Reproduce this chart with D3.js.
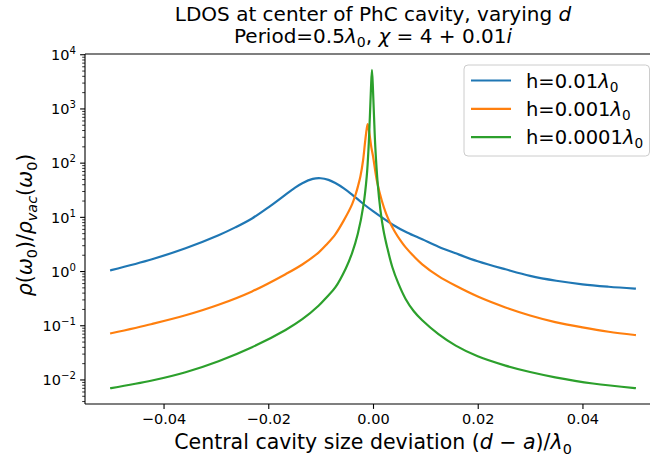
<!DOCTYPE html>
<html>
<head>
<meta charset="utf-8">
<script src="https://cdn.jsdelivr.net/npm/d3@7"></script>
<style>
  html, body { margin: 0; padding: 0; background: #fff; }
  svg { display: block; font-family: "DejaVu Sans", sans-serif; }
</style>
</head>
<body>
<svg id="chart" width="650" height="456"></svg>
<script>
// Deviation (d - a)/λ0 sample positions and LDOS ratio for each slab thickness
const devH1 = [-0.05, -0.0422, -0.0358, -0.0295, -0.0263, -0.0231, -0.0199, -0.0167, -0.015, -0.0135,
               -0.0115, -0.0100, -0.0085, -0.0072, -0.0055, -0.0040, -0.0020, 0.0, 0.0037, 0.0065,
               0.0094, 0.0125, 0.0158, 0.020, 0.0253, 0.030, 0.035, 0.040, 0.045, 0.05];
const ldosH1 = [1.06, 1.69, 2.69, 4.68, 6.53, 9.55, 15.5, 26.3, 34.7, 42.7,
                51.2, 52.7, 49.1, 42.9, 33.9, 26.3, 18.2, 13.0, 7.40, 5.25,
                3.94, 2.88, 2.17, 1.55, 1.10, 0.832, 0.676, 0.582, 0.525, 0.484];

const devH2 = [-0.05, -0.0422, -0.0358, -0.0295, -0.0231, -0.0167, -0.0135, -0.0104, -0.0088, -0.0072,
               -0.0056, -0.0040, -0.0032, -0.0028, -0.0024, -0.0019, -0.0015, -0.0012, -0.0010, -0.0007,
               -0.0003, 0.0, 0.00076, 0.0017, 0.0025, 0.0033, 0.0042, 0.0052, 0.0062, 0.0078,
               0.0094, 0.0125, 0.0158, 0.020, 0.0253, 0.030, 0.0348, 0.040, 0.045, 0.05];
const ldosH2 = [0.0726, 0.108, 0.156, 0.244, 0.430, 0.895, 1.35, 2.24, 3.20, 4.86,
                8.71, 17.4, 28.8, 39.8, 57.5, 112, 251, 427, 525, 363,
                191, 135, 46.5, 20.0, 11.7, 7.76, 5.37, 3.80, 2.82, 1.91,
                1.36, 0.822, 0.545, 0.346, 0.218, 0.155, 0.117, 0.0933, 0.0776, 0.0676];

const devH3 = [-0.05, -0.0422, -0.0358, -0.0295, -0.0231, -0.0167, -0.0135, -0.0104, -0.0088, -0.0072,
               -0.0052, -0.0040, -0.0029, -0.0018, -0.0012, -0.00084, -0.0006, -0.0004, -0.0002, 0.0,
               0.0002, 0.00044, 0.0009, 0.0014, 0.0020, 0.0027, 0.0037, 0.0048, 0.0062, 0.0078,
               0.0094, 0.0125, 0.0158, 0.020, 0.0253, 0.030, 0.0348, 0.042, 0.05];
const ldosH3 = [0.00708, 0.00977, 0.0139, 0.0222, 0.0402, 0.0836, 0.132, 0.234, 0.340, 0.509,
                1.14, 2.19, 4.98, 17.4, 56.2, 200, 708, 2240, 5250, 2240,
                708, 200, 41.7, 14.1, 5.79, 2.82, 1.20, 0.617, 0.316, 0.185,
                0.126, 0.0700, 0.0430, 0.0273, 0.0184, 0.0140, 0.0112, 0.00861, 0.00708];

const seriesLabels = ["0.01", "0.001", "0.0001"];
const seriesColors = ["#1f77b4", "#ff7f0e", "#2ca02c"];

const xTicks = [-0.04, -0.02, 0.0, 0.02, 0.04];
const yTickExps = [-2, -1, 0, 1, 2, 3, 4];

const series = [
  { dev: devH1, ldos: ldosH1 },
  { dev: devH2, ldos: ldosH2 },
  { dev: devH3, ldos: ldosH3 }
].map((s, i) => ({
  label: seriesLabels[i],
  color: seriesColors[i],
  points: s.dev.map((d, j) => ({ x: d, y: s.ldos[j] }))
}));

const svg = d3.select("#chart");
const plot = { left: 85, right: 661, top: 54, bottom: 404 };

// Axis limits: data extent padded by 5% (in log space for y)
const allPts = series.flatMap(s => s.points);
const xExt = d3.extent(allPts, p => p.x);
const xPad = (xExt[1] - xExt[0]) * 0.05;
const lyExt = d3.extent(allPts, p => Math.log10(p.y));
const lyPad = (lyExt[1] - lyExt[0]) * 0.05;

const x = d3.scaleLinear()
  .domain([xExt[0] - xPad, xExt[1] + xPad])
  .range([plot.left, plot.right]);
const y = d3.scaleLog()
  .domain([Math.pow(10, lyExt[0] - lyPad), Math.pow(10, lyExt[1] + lyPad)])
  .range([plot.bottom, plot.top]);

// Small helper for math-style text: italics, subscripts, superscripts
function rich(textSel, parts, fs) {
  let cur = 0;
  parts.forEach(p => {
    const ts = textSel.append("tspan").text(p.t);
    const target = p.sub ? 0.22 * fs : (p.sup ? -0.42 * fs : 0);
    if (target !== cur) ts.attr("dy", target - cur);
    cur = target;
    if (p.sub || p.sup) ts.attr("font-size", 0.7 * fs);
    if (p.it) ts.attr("font-style", "italic");
  });
}

// Curves
const line = d3.line()
  .x(p => x(p.x))
  .y(p => y(p.y))
  .curve(d3.curveCatmullRom.alpha(0.5));

const curves = svg.append("g");
series.forEach(s => {
  curves.append("path")
    .datum(s.points)
    .attr("d", line)
    .attr("fill", "none")
    .attr("stroke", s.color)
    .attr("stroke-width", 2.2)
    .attr("stroke-linejoin", "round")
    .attr("stroke-linecap", "square");
});

// X axis
const tickFs = 14.5;
const xAxis = svg.append("g")
  .attr("transform", `translate(0,${plot.bottom})`)
  .call(d3.axisBottom(x).tickValues(xTicks).tickSize(4.9).tickPadding(5)
    .tickFormat(v => (v < 0 ? "\u2212" : "") + Math.abs(v).toFixed(2)));
xAxis.select(".domain").remove();
xAxis.selectAll(".tick line").attr("stroke", "#000").attr("stroke-width", 1.1);
xAxis.selectAll(".tick text")
  .attr("font-size", tickFs)
  .attr("font-family", "DejaVu Sans")
  .attr("fill", "#000");

// Y axis (log): major ticks with 10^n labels, minor ticks at 2..9 × 10^n
const yAxis = svg.append("g").attr("transform", `translate(${plot.left},0)`);
const [ylo, yhi] = y.domain();
const minorVals = [];
for (let e = Math.floor(Math.log10(ylo)); e <= Math.ceil(Math.log10(yhi)); e++) {
  for (let m = 2; m <= 9; m++) {
    const v = m * Math.pow(10, e);
    if (v >= ylo && v <= yhi) minorVals.push(v);
  }
}
yAxis.selectAll("line.minor").data(minorVals).join("line")
  .attr("class", "minor")
  .attr("x1", -2.8).attr("x2", 0)
  .attr("y1", v => y(v)).attr("y2", v => y(v))
  .attr("stroke", "#000").attr("stroke-width", 0.8);
yAxis.selectAll("line.major").data(yTickExps).join("line")
  .attr("class", "major")
  .attr("x1", -4.9).attr("x2", 0)
  .attr("y1", e => y(Math.pow(10, e))).attr("y2", e => y(Math.pow(10, e)))
  .attr("stroke", "#000").attr("stroke-width", 1.1);
yTickExps.forEach(e => {
  const t = yAxis.append("text")
    .attr("x", -9)
    .attr("y", y(Math.pow(10, e)) + 5.3)
    .attr("text-anchor", "end")
    .attr("font-size", tickFs)
    .attr("fill", "#000");
  rich(t, [{ t: "10" }, { t: (e < 0 ? "\u2212" : "") + Math.abs(e), sup: true }], tickFs);
});

// Spines
const frame = svg.append("g").attr("stroke", "#000").attr("stroke-width", 1.1).attr("fill", "none");
frame.append("line").attr("x1", plot.left).attr("x2", plot.right).attr("y1", plot.bottom).attr("y2", plot.bottom);
frame.append("line").attr("x1", plot.left).attr("x2", plot.right).attr("y1", plot.top).attr("y2", plot.top);
frame.append("line").attr("x1", plot.left).attr("x2", plot.left).attr("y1", plot.top).attr("y2", plot.bottom);
frame.append("line").attr("x1", plot.right).attr("x2", plot.right).attr("y1", plot.top).attr("y2", plot.bottom);

// Title
const cx = (plot.left + plot.right) / 2;
const titleFs = 20;
const t1 = svg.append("text").attr("x", cx).attr("y", 21).attr("text-anchor", "middle")
  .attr("font-size", titleFs).attr("fill", "#000");
rich(t1, [{ t: "LDOS at center of PhC cavity, varying " }, { t: "d", it: true }], titleFs);
const t2 = svg.append("text").attr("x", cx).attr("y", 43).attr("text-anchor", "middle")
  .attr("font-size", titleFs).attr("fill", "#000");
rich(t2, [
  { t: "Period=0.5" }, { t: "λ", it: true }, { t: "0", sub: true }, { t: ", " },
  { t: "χ", it: true }, { t: " = 4 + 0.01" }, { t: "i", it: true }
], titleFs);

// Axis labels
const labFs = 20.5;
const xl = svg.append("text").attr("x", cx).attr("y", 449).attr("text-anchor", "middle")
  .attr("font-size", labFs).attr("fill", "#000");
rich(xl, [
  { t: "Central cavity size deviation (" }, { t: "d", it: true }, { t: " \u2212 " },
  { t: "a", it: true }, { t: ")/" }, { t: "λ", it: true }, { t: "0", sub: true }
], labFs);

const yl = svg.append("text")
  .attr("transform", `translate(32,${(plot.top + plot.bottom) / 2 - 4}) rotate(-90)`)
  .attr("text-anchor", "middle")
  .attr("font-size", labFs).attr("fill", "#000");
rich(yl, [
  { t: "ρ", it: true }, { t: "(" }, { t: "ω", it: true }, { t: "0", sub: true }, { t: ")/" },
  { t: "ρ", it: true }, { t: "vac", sub: true, it: true }, { t: "(" }, { t: "ω", it: true },
  { t: "0", sub: true }, { t: ")" }
], labFs);

// Legend
const legFs = 19.5;
const leg = svg.append("g");
const legBox = { x: 464, y: 65, w: 185.5, h: 91 };
leg.append("rect")
  .attr("x", legBox.x).attr("y", legBox.y).attr("width", legBox.w).attr("height", legBox.h)
  .attr("rx", 4).attr("fill", "#fff").attr("fill-opacity", 0.8)
  .attr("stroke", "#cccccc").attr("stroke-width", 1);
series.forEach((s, i) => {
  const ry = 80.5 + i * 28.3;
  leg.append("line")
    .attr("x1", 471).attr("x2", 511).attr("y1", ry).attr("y2", ry)
    .attr("stroke", s.color).attr("stroke-width", 2.2);
  const lt = leg.append("text").attr("x", 526).attr("y", ry + 7)
    .attr("font-size", legFs).attr("fill", "#000");
  rich(lt, [{ t: "h=" + s.label }, { t: "λ", it: true }, { t: "0", sub: true }], legFs);
});
</script>
</body>
</html>
